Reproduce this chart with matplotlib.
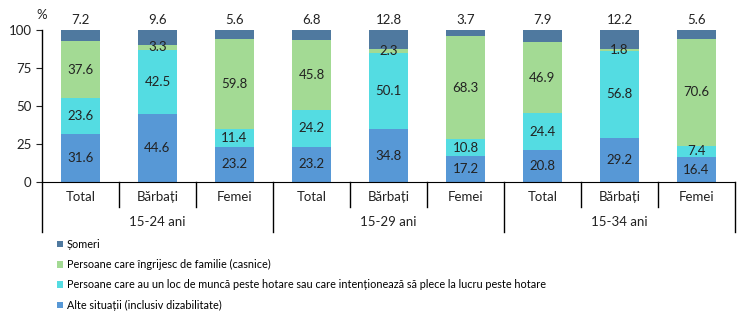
import matplotlib
matplotlib.use("Agg")
import matplotlib.pyplot as plt
import matplotlib.transforms as mtransforms
import numpy as np

plt.rcParams['font.family'] = ['Lato', 'DejaVu Sans']

groups = ['15-24 ani', '15-29 ani', '15-34 ani']
subcats = ['Total', 'Bărbați', 'Femei']

alte = [31.6, 44.6, 23.2, 23.2, 34.8, 17.2, 20.8, 29.2, 16.4]
peste_hotare = [23.6, 42.5, 11.4, 24.2, 50.1, 10.8, 24.4, 56.8, 7.4]
casnice = [37.6, 3.3, 59.8, 45.8, 2.3, 68.3, 46.9, 1.8, 70.6]
someri = [7.2, 9.6, 5.6, 6.8, 12.8, 3.7, 7.9, 12.2, 5.6]

series = [
    ('Alte situații (inclusiv dizabilitate)', alte, '#5798D6'),
    ('Persoane care au un loc de muncă peste hotare sau care intenționează să plece la lucru peste hotare', peste_hotare, '#54DCE2'),
    ('Persoane care îngrijesc de familie (casnice)', casnice, '#A3DA94'),
    ('Șomeri', someri, '#4F799F'),
]

txt = '#222222'
fs = 9.5

fig = plt.figure(figsize=(7.43, 3.26), dpi=100)
ax = fig.add_axes([42 / 743, 1 - 182 / 326, 693 / 743, 152 / 326])

x = np.arange(len(alte))
bottom = np.zeros(len(x))
handles = []
for i, (name, vals, col) in enumerate(series):
    vals = np.array(vals)
    b = ax.bar(x, vals, 0.5, bottom=bottom, color=col, label=name)
    handles.append(b)
    for xi, v, bt in zip(x, vals, bottom):
        if i == 3:
            ax.text(xi, 102.5, f'{v:.1f}', ha='center', va='bottom', fontsize=fs, color=txt)
        else:
            ax.text(xi, bt + v / 2, f'{v:.1f}', ha='center', va='center', fontsize=fs, color=txt)
    bottom += vals

ax.set_xlim(-0.5, len(x) - 0.5)
ax.set_ylim(0, 100)
ax.set_yticks([0, 25, 50, 75, 100])
ax.tick_params(axis='y', labelsize=fs, length=4, colors=txt)
ax.set_xticks([])
for s in ['top', 'right', 'left']:
    ax.spines[s].set_visible(False)
ax.spines['bottom'].set_color('black')

trans = mtransforms.blended_transform_factory(ax.transData, ax.transAxes)
# y axis line runs down past the group labels
ax.plot([-0.5, -0.5], [1.0, -0.33], transform=trans, color='black', lw=1, clip_on=False)
for k in range(1, len(x) + 1):
    low = -0.33 if k % 3 == 0 else -0.165
    ax.plot([k - 0.5, k - 0.5], [0, low], transform=trans, color='black', lw=1, clip_on=False)

for i, xi in enumerate(x):
    ax.text(xi, -0.1, subcats[i % 3], transform=trans, ha='center', va='center', fontsize=fs, color=txt)
for g, name in enumerate(groups):
    ax.text(g * 3 + 1, -0.265, name, transform=trans, ha='center', va='center', fontsize=fs, color=txt)

ax.text(-0.5, 1.1, '%', transform=trans, ha='center', va='center', fontsize=fs, color=txt)

fig.legend(handles[::-1], [s[0] for s in series[::-1]], loc='upper left',
           bbox_to_anchor=(57 / 743, 1 - 239 / 326), frameon=False, fontsize=7.8,
           handlelength=0.55, handleheight=0.55, handletextpad=0.35, labelspacing=0.85,
           borderaxespad=0, borderpad=0)

fig.savefig('out.png', dpi=100)
